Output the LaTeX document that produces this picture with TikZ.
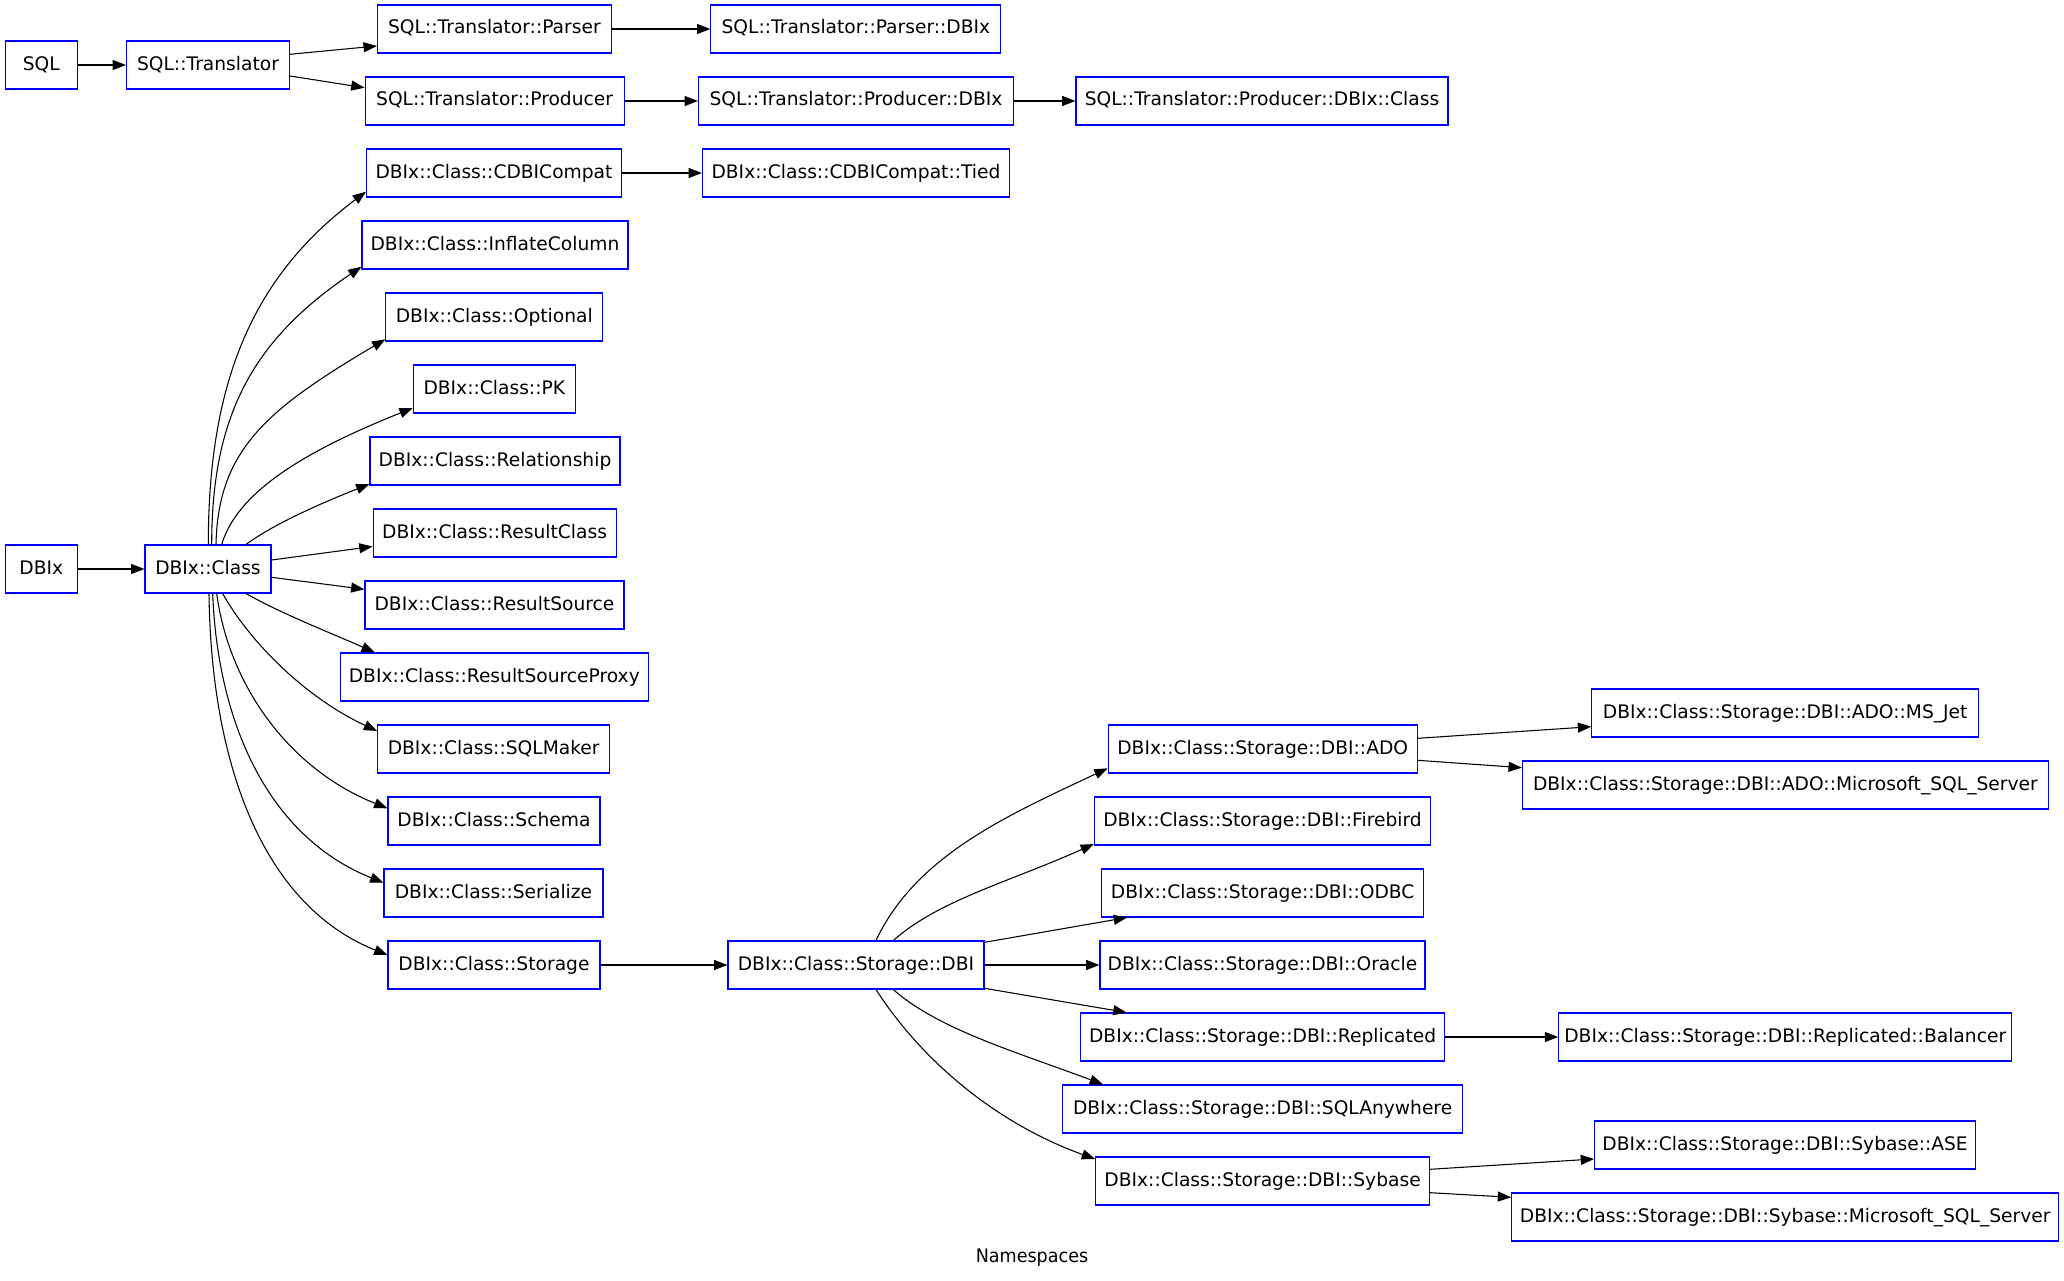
\documentclass[tikz,border=0pt]{standalone}
\usepackage{fontspec}
\setmainfont{DejaVu Sans}
\newfontfamily\captionfont{DejaVu Sans}[FakeStretch=0.94]
\usetikzlibrary{arrows.meta,calc}
\begin{document}
\begin{tikzpicture}[x=0.75pt,y=-0.75pt,
  ns/.style={draw=blue, line width=0.8pt, rectangle, inner sep=0pt,
    minimum height=36pt, minimum width=#1*0.75pt,
    text height=10.5pt, text depth=3pt,
    font=\fontsize{14pt}{16pt}\selectfont},
  dep/.style={draw=black, line width=0.8pt,
    -{Triangle[length=10pt,width=7.5pt]}},
]
\useasboundingbox (0,0) rectangle (2064,1281);

% SQL namespace tree
\node[ns=72]  (sql)           at (41.3,65)   {SQL};
\node[ns=163] (sqlt)          at (208,65)    {SQL::Translator};
\node[ns=234] (parser)        at (494.4,29)  {SQL::Translator::Parser};
\node[ns=290] (parserdbix)    at (855.9,29)  {SQL::Translator::Parser::DBIx};
\node[ns=259] (producer)      at (494.6,101) {SQL::Translator::Producer};
\node[ns=315] (producerdbix)  at (856,101)   {SQL::Translator::Producer::DBIx};
\node[ns=372] (producerclass) at (1262,101)  {SQL::Translator::Producer::DBIx::Class};

% DBIx namespace tree
\node[ns=72]  (dbix)         at (41.3,569)  {DBIx};
\node[ns=126] (dbixclass)    at (208,569)   {DBIx::Class};
\node[ns=255] (cdbi)         at (494,173)   {DBIx::Class::CDBICompat};
\node[ns=307] (tied)         at (856,173)   {DBIx::Class::CDBICompat::Tied};
\node[ns=266] (inflate)      at (495,245)   {DBIx::Class::InflateColumn};
\node[ns=217] (optional)     at (494.3,317) {DBIx::Class::Optional};
\node[ns=162] (pk)           at (494.3,389) {DBIx::Class::PK};
\node[ns=250] (relationship) at (495,461)   {DBIx::Class::Relationship};
\node[ns=243] (resultclass)  at (494.6,533) {DBIx::Class::ResultClass};
\node[ns=259] (resultsource) at (494.5,605) {DBIx::Class::ResultSource};
\node[ns=308] (proxy)        at (494.3,677) {DBIx::Class::ResultSourceProxy};
\node[ns=232] (sqlmaker)     at (493.7,749) {DBIx::Class::SQLMaker};
\node[ns=212] (schema)       at (494,821)   {DBIx::Class::Schema};
\node[ns=219] (serialize)    at (493.5,893) {DBIx::Class::Serialize};
\node[ns=212] (storage)      at (494,965)   {DBIx::Class::Storage};

\node[ns=256] (storagedbi)   at (856,965)    {DBIx::Class::Storage::DBI};
\node[ns=309] (ado)          at (1262.7,749) {DBIx::Class::Storage::DBI::ADO};
\node[ns=336] (firebird)     at (1262.5,821) {DBIx::Class::Storage::DBI::Firebird};
\node[ns=322] (odbc)         at (1262.7,893) {DBIx::Class::Storage::DBI::ODBC};
\node[ns=325] (oracle)       at (1262.5,965) {DBIx::Class::Storage::DBI::Oracle};
\node[ns=364] (replicated)   at (1262.6,1037){DBIx::Class::Storage::DBI::Replicated};
\node[ns=400] (sqlanywhere)  at (1262.6,1109){DBIx::Class::Storage::DBI::SQLAnywhere};
\node[ns=334] (sybase)       at (1262.6,1181){DBIx::Class::Storage::DBI::Sybase};

\node[ns=387] (msjet)    at (1785.2,713)  {DBIx::Class::Storage::DBI::ADO::MS\_Jet};
\node[ns=526] (adomssql) at (1785.4,785)  {DBIx::Class::Storage::DBI::ADO::Microsoft\_SQL\_Server};
\node[ns=453] (balancer) at (1785.2,1037) {DBIx::Class::Storage::DBI::Replicated::Balancer};
\node[ns=381] (ase)      at (1785.1,1145) {DBIx::Class::Storage::DBI::Sybase::ASE};
\node[ns=547] (sybmssql) at (1785.2,1217) {DBIx::Class::Storage::DBI::Sybase::Microsoft\_SQL\_Server};

% caption
\node[anchor=base, font=\captionfont\fontsize{14pt}{16pt}\selectfont] (caption) at (1032,1262.7) {Namespaces};

% straight connectors
\draw[dep] (sql) -- (sqlt);
\draw[dep] ($(sqlt.east)+(0,-10.7)$) -- ($(parser.west)+(0,17)$);
\draw[dep] ($(sqlt.east)+(0,11)$) -- ($(producer.west)+(0,-13.3)$);
\draw[dep] (parser) -- (parserdbix);
\draw[dep] (producer) -- (producerdbix);
\draw[dep] (producerdbix) -- (producerclass);
\draw[dep] (cdbi) -- (tied);
\draw[dep] (dbix) -- (dbixclass);
\draw[dep] ($(dbixclass.east)+(0,-9)$) -- ($(resultclass.west)+(0,13.5)$);
\draw[dep] ($(dbixclass.east)+(0,8.3)$) -- ($(resultsource.west)+(0,-15.7)$);
\draw[dep] (storage) -- (storagedbi);
\draw[dep] ($(storagedbi.east)+(0,-22.7)$) -- ($(odbc.south west)+(25.8,0)$);
\draw[dep] (storagedbi) -- (oracle);
\draw[dep] ($(storagedbi.east)+(0,23.3)$) -- ($(replicated.north west)+(46.5,0)$);
\draw[dep] ($(ado.east)+(0,-10.7)$) -- ($(msjet.west)+(0,13.7)$);
\draw[dep] ($(ado.east)+(0,11.3)$) -- ($(adomssql.west)+(0,-17.3)$);
\draw[dep] (replicated) -- (balancer);
\draw[dep] ($(sybase.east)+(0,-11.7)$) -- ($(ase.west)+(0,14)$);
\draw[dep] ($(sybase.east)+(0,11.7)$) -- ($(sybmssql.west)+(0,-19.7)$);

% curved connectors fanning out of DBIx::Class
\draw[dep] ($(dbixclass.north)+(0.3,0)$) .. controls +(0,-165) and +(-112,84) .. ($(cdbi.west)+(0,18.7)$);
\draw[dep] ($(dbixclass.north)+(3.7,0)$) .. controls +(0,-130) and +(-108,73) .. ($(inflate.west)+(0,21.7)$);
\draw[dep] ($(dbixclass.north)+(8,0)$) .. controls +(2,-95) and +(-118,70) .. ($(optional.west)+(0,22.3)$);
\draw[dep] ($(dbixclass.north)+(13.7,0)$) .. controls +(15,-50) and +(-115,46) .. ($(pk.west)+(0,19)$);
\draw[dep] ($(dbixclass.north)+(38,0)$) .. controls +(30,-22) and +(-45,18) .. ($(relationship.west)+(0,23)$);
\draw[dep] ($(dbixclass.south)+(38,0)$) .. controls +(35,20) and +(-45,-20) .. ($(proxy.north west)+(35,0)$);
\draw[dep] ($(dbixclass.south)+(14.7,0)$) .. controls +(25,45) and +(-75,-35) .. ($(sqlmaker.west)+(0,-18)$);
\draw[dep] ($(dbixclass.south)+(8.7,0)$) .. controls +(12,90) and +(-100,-40) .. ($(schema.west)+(0,-12.7)$);
\draw[dep] ($(dbixclass.south)+(4.7,0)$) .. controls +(5,130) and +(-115,-46) .. ($(serialize.west)+(0,-10.3)$);
\draw[dep] ($(dbixclass.south)+(1,0)$) .. controls +(2,170) and +(-125,-50) .. ($(storage.west)+(0,-10)$);

% curved connectors fanning out of DBIx::Class::Storage::DBI
\draw[dep] ($(storagedbi.north)+(20,0)$) .. controls +(40,-85) and +(-100,47) .. ($(ado.west)+(0,19.3)$);
\draw[dep] ($(storagedbi.north)+(37.3,0)$) .. controls +(45,-40) and +(-85,38) .. ($(firebird.west)+(0,23)$);
\draw[dep] ($(storagedbi.south)+(37.3,0)$) .. controls +(45,40) and +(-85,-32) .. ($(sqlanywhere.north west)+(41,0)$);
\draw[dep] ($(storagedbi.south)+(20,0)$) .. controls +(45,70) and +(-100,-36) .. ($(sybase.west)+(0,-22)$);
\end{tikzpicture}
\end{document}
